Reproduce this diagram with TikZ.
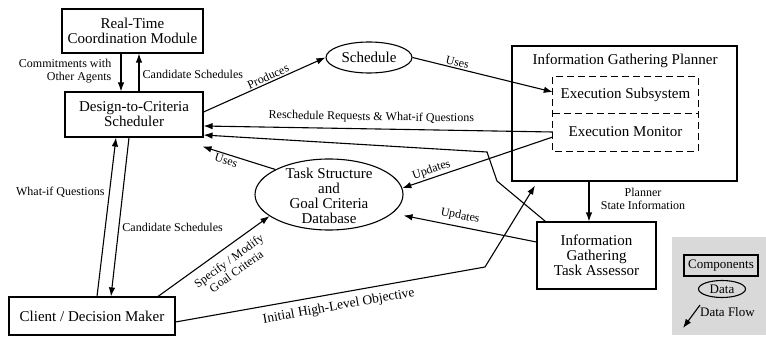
\documentclass[tikz,border=0pt]{standalone}
\usepackage{fontspec}
\setmainfont{Liberation Serif}
\usetikzlibrary{shapes.geometric,arrows.meta,calc}
\begin{document}
\begin{tikzpicture}[x=1pt,y=-1pt,
  every node/.style={font=\fontsize{15}{15}\selectfont},
  comp/.style={draw,line width=1.1pt,rectangle,inner sep=0pt,align=center},
  datum/.style={draw,line width=1.1pt,ellipse,inner sep=0pt,align=center},
  lab/.style={font=\fontsize{12}{13}\selectfont,inner sep=1.5pt,align=center},
  flow/.style={line width=1.1pt,-{Latex[length=9pt,width=6.5pt]}},
  dashedbox/.style={line width=1.1pt,dash pattern=on 7pt off 4pt},
]
\useasboundingbox (0,0) rectangle (766,337);

% components
\node[comp,minimum width=141pt,minimum height=44pt] (rtcm) at (132.5,31) {Real-Time\\Coordination Module};
\node[comp,minimum width=138pt,minimum height=45pt] (dtc) at (134,114.5) {Design-to-Criteria\\Scheduler};
\node[datum,minimum width=86pt,minimum height=31pt] (sched) at (369,57.5) {Schedule};
\node[comp,minimum width=225pt,minimum height=135pt] (igp) at (624.5,113.5) {};
\node (igpt) at (625,61) {Information Gathering Planner};
\node[minimum width=145pt,minimum height=36pt,inner sep=0pt] (exs) at (625.5,95) {Execution Subsystem};
\node[minimum width=145pt,minimum height=38pt,inner sep=0pt] (exm) at (625.5,132) {Execution Monitor};
\draw[dashedbox] (exs.north west) rectangle (exm.south east);
\draw[dashedbox] (exs.south west) -- (exs.south east);
\node[datum,minimum width=148pt,minimum height=71pt] (db) at (329,194.5) {};
\node[align=center,inner sep=0pt] (dbt) at (329,196) {Task Structure\\and\\Goal Criteria\\Database};
\node[comp,minimum width=119pt,minimum height=67pt] (igta) at (596.5,255.5) {Information\\Gathering\\Task Assessor};
\node[comp,minimum width=166pt,minimum height=38pt] (client) at (92,316) {Client / Decision Maker};

% connectors
\draw[flow] ([xshift=-11.5pt]rtcm.south) -- ([xshift=-13pt]dtc.north);
\draw[flow] ([xshift=5pt]dtc.north) -- ([xshift=6.5pt]rtcm.south);
\node[lab,align=right,anchor=east] (lcomm) at (113,71) {Commitments with\\Other Agents};
\node[lab,anchor=west] (lcand1) at (141,74) {Candidate Schedules};

\draw[flow] ([yshift=2.5pt]dtc.east) -- node[lab,sloped,above,pos=0.55] (lprod) {Produces} (sched.west);
\draw[flow] (sched.east) -- node[lab,sloped,above,pos=0.31] (luses1) {Uses} ([yshift=3pt]exs.west);
\draw[flow] (exm.west) -- node[lab,sloped,above=4pt,pos=0.52] (lresch) {Reschedule Requests \& What-if Questions} ([yshift=-11.5pt]dtc.east);

\coordinate (b1) at (497,181);
\coordinate (b2) at (487,152);
\draw[flow] ([xshift=9pt]igta.north west) -- (b1) -- (b2) -- ([yshift=-20.5pt]dtc.east);

\draw[flow] ([yshift=-5pt]exm.west) -- node[lab,sloped,above,pos=0.79] (lupd1) {Updates} (db.5);
\draw[flow] (db.155) -- node[lab,sloped,below,pos=0.65] (luses2) {Uses} ([xshift=-1pt,yshift=-9pt]dtc.south east);

\draw[flow] ([xshift=-35.5pt]igp.south) -- ([xshift=-7.5pt]igta.north);
\node[lab] (lpsi) at (643,199) {Planner\\State Information};

\draw[flow] ([yshift=13.5pt]igta.west) -- node[lab,sloped,above=3pt,pos=0.59] (lupd2) {Updates} ([yshift=-21pt]db.east);

\draw[flow] ([xshift=5pt]client.north) -- node[lab,left=3pt,pos=0.656] (lwhat) {What-if Questions} ([xshift=-18pt]dtc.south);
\draw[flow] ([xshift=-5pt]dtc.south) -- node[lab,right=1.5pt,pos=0.5625] (lcand2) {Candidate Schedules} ([xshift=19pt]client.north);

\draw[flow] ([xshift=66pt]client.north) -- node[lab,sloped,below=6pt,pos=0.57] (lspec) {Specify / Modify\\Goal Criteria} (db.200);

\coordinate (b3) at (485,267);
\draw[flow] ([yshift=-6pt]client.east) -- node[lab,font=\fontsize{13.5}{14}\selectfont,sloped,below=5pt,pos=0.52] (linit) {Initial High-Level Objective} (b3) -- ([xshift=-89.5pt,yshift=-4pt]igp.south);

% legend
\node[fill=gray!30,minimum width=94pt,minimum height=98pt,inner sep=0pt] (legbg) at (719,286) {};
\node[comp,minimum width=74pt,minimum height=21pt,font=\fontsize{13}{14}\selectfont] (lcomp) at (721,265.5) {Components};
\node[datum,minimum width=47pt,minimum height=17pt,font=\fontsize{13}{14}\selectfont] (ldata) at (722,289) {Data};
\coordinate (lf1) at (700,305);
\coordinate (lf2) at (683,328);
\draw[flow] (lf1) -- (lf2);
\node[font=\fontsize{13}{14}\selectfont,anchor=west,inner sep=0pt] (lflow) at (700,312) {Data Flow};
\end{tikzpicture}
\end{document}
